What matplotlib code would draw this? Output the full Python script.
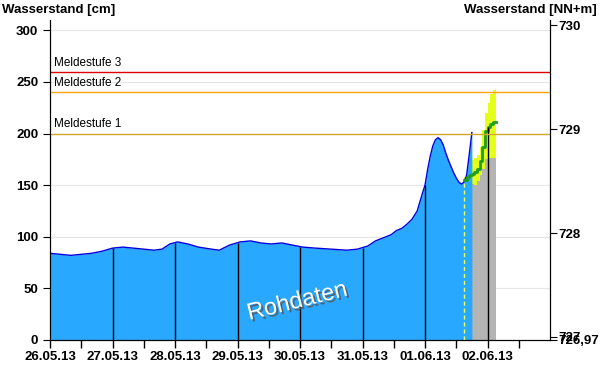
import numpy as np
import pandas as pd
import matplotlib
matplotlib.use("Agg")
import matplotlib.pyplot as plt
import matplotlib.dates as mdates
import matplotlib.patheffects as pe

plt.rcParams['font.family'] = ['Liberation Sans', 'DejaVu Sans']

# gemessener Wasserstand [cm]
mess_zeit = ["2013-05-26 00:00", "2013-05-26 04:00", "2013-05-26 08:00", "2013-05-26 12:00",
             "2013-05-26 16:00", "2013-05-26 20:00", "2013-05-27 00:00", "2013-05-27 04:00",
             "2013-05-27 08:00", "2013-05-27 12:00", "2013-05-27 16:00", "2013-05-27 19:00",
             "2013-05-27 22:00", "2013-05-28 01:00", "2013-05-28 05:00", "2013-05-28 09:00",
             "2013-05-28 14:00", "2013-05-28 17:00", "2013-05-28 21:00", "2013-05-29 01:00",
             "2013-05-29 05:00", "2013-05-29 09:00", "2013-05-29 13:00", "2013-05-29 17:00",
             "2013-05-29 21:00", "2013-05-30 01:00", "2013-05-30 06:00", "2013-05-30 12:00",
             "2013-05-30 18:00", "2013-05-30 22:00", "2013-05-31 02:00", "2013-05-31 05:00",
             "2013-05-31 08:00", "2013-05-31 11:00", "2013-05-31 13:00", "2013-05-31 15:00",
             "2013-05-31 17:00", "2013-05-31 19:00", "2013-05-31 21:00", "2013-05-31 23:00",
             "2013-06-01 00:00", "2013-06-01 01:00", "2013-06-01 02:00", "2013-06-01 03:00",
             "2013-06-01 04:00", "2013-06-01 05:00", "2013-06-01 06:00", "2013-06-01 07:00",
             "2013-06-01 08:00", "2013-06-01 09:00", "2013-06-01 10:00", "2013-06-01 11:00",
             "2013-06-01 12:00", "2013-06-01 13:00", "2013-06-01 14:00", "2013-06-01 15:00",
             "2013-06-01 16:00", "2013-06-01 17:00", "2013-06-01 18:00"]
mess_wert = [84, 83, 82, 83, 84, 86, 89, 90, 89, 88, 87, 88, 93, 95, 93, 90, 88, 87, 92, 95,
             96, 94, 93, 94, 92, 90, 89, 88, 87, 88, 91, 96, 99, 102, 106, 108, 112, 117, 125,
             142, 150, 165, 178, 188, 194, 196, 194, 189, 181, 174, 168, 162, 157, 153, 151,
             153, 160, 180, 201]

# Vorhersage [cm]
vh_zeit = ["2013-06-01 15:00", "2013-06-01 16:00", "2013-06-01 17:00", "2013-06-01 18:00",
           "2013-06-01 19:00", "2013-06-01 20:00", "2013-06-01 21:00", "2013-06-01 22:00",
           "2013-06-01 23:00", "2013-06-02 00:00", "2013-06-02 01:00", "2013-06-02 02:00",
           "2013-06-02 03:00", "2013-06-02 03:15"]
vh_unten = [153, 153, 152, 151, 150, 154, 160, 166, 175, 176, 176, 176, 176, 176]
vh_median = [155, 158, 160, 161, 163, 166, 173, 187, 202, 206, 209, 211, 211, 211]
vh_oben = [158, 166, 172, 174, 176, 179, 187, 203, 220, 230, 238, 242, 243, 243]

meldestufen = ["Meldestufe 1", "Meldestufe 2", "Meldestufe 3"]
meldestufen_wert = [200, 240, 260]
meldestufen_farbe = ["#D4A82A", "#FFA500", "#E00000"]

t_mess = pd.to_datetime(mess_zeit)
t_vh = pd.to_datetime(vh_zeit)
y_mess = np.array(mess_wert)

fig = plt.figure(figsize=(6, 3.84), dpi=100)
ax = fig.add_axes([50/600, 44/384, 500/600, 320/384])

ax.set_xlim(pd.Timestamp("2013-05-26"), pd.Timestamp("2013-06-03"))
ax.set_ylim(0, 310)

for y in range(50, 301, 50):
    ax.axhline(y, color="#E6E6E6", lw=0.8, zorder=0)

# Vorhersage
ax.fill_between(t_vh, 0, vh_unten, step="post", color="#B4B4B4", lw=0, zorder=1)
ax.fill_between(t_vh, vh_unten, vh_oben, step="post", color="#E4FF1A", lw=0, zorder=1)

# Messwerte
ax.fill_between(t_mess, 0, y_mess, color="#29A8FF", lw=0, zorder=2)
ax.plot(t_mess, y_mess, color="#0000DD", lw=1, zorder=3)
ax.step(t_vh, vh_median, where="post", color="#1E9E1E", lw=2, zorder=4)

ax.vlines(t_vh[0], 0, vh_median[0], color="#E4FF60", lw=1, ls=(0, (3, 2)), zorder=3)

# Tagesgrenzen
tage = pd.date_range("2013-05-27", "2013-06-02", freq="D")
t_num = mdates.date2num(t_mess)
tv_num = mdates.date2num(t_vh)
for d in tage:
    dn = mdates.date2num(d)
    if dn <= t_num[-1]:
        h = np.interp(dn, t_num, y_mess)
    else:
        h = vh_median[np.searchsorted(tv_num, dn, side="right") - 1]
    ax.vlines(d, 0, h, color="black", lw=1, zorder=5)

for name, wert, farbe in zip(meldestufen, meldestufen_wert, meldestufen_farbe):
    ax.axhline(wert, color=farbe, lw=1, zorder=6)
    ax.text(pd.Timestamp("2013-05-26 01:30"), wert + 3, name, fontsize=8.5, va="bottom", zorder=6)

ax.text(pd.Timestamp("2013-05-29 23:00"), 37, "Rohdaten", fontsize=17, color="white",
        rotation=14, ha="center", va="center", zorder=7,
        path_effects=[pe.withSimplePatchShadow(offset=(1.5, -1.5), shadow_rgbFace="#555555", alpha=0.8)])

ax.spines["top"].set_visible(False)
ax.set_xticks(pd.date_range("2013-05-26", "2013-06-02", freq="D"))
ax.xaxis.set_major_formatter(mdates.DateFormatter("%d.%m.%y"))
ax.xaxis.set_minor_locator(mdates.HourLocator(byhour=[12]))
ax.tick_params(axis="x", which="both", direction="out", length=6, width=1, labelsize=9.5, pad=2)
ax.set_yticks(range(0, 301, 50))
ax.tick_params(axis="y", direction="out", length=5, labelsize=9.5)
for lab in ax.get_xticklabels() + ax.get_yticklabels():
    lab.set_fontweight("bold")

ax2 = ax.twinx()
ax2.set_ylim(726.97, 726.97 + 310 / 100.6)
ax2.set_yticks([726.97, 727, 728, 729, 730])
ax2.set_yticklabels(["726,97", "727", "728", "729", "730"], fontweight="bold")
ax2.tick_params(axis="y", direction="out", length=5, labelsize=9.5, pad=1)
ax2.spines["top"].set_visible(False)

fig.text(2/600, 1 - 10/384, "Wasserstand [cm]", fontsize=9.5, fontweight="bold", va="center")
fig.text(597/600, 1 - 10/384, "Wasserstand [NN+m]", fontsize=9.5, fontweight="bold", va="center", ha="right")

fig.savefig("out.png", dpi=100)
